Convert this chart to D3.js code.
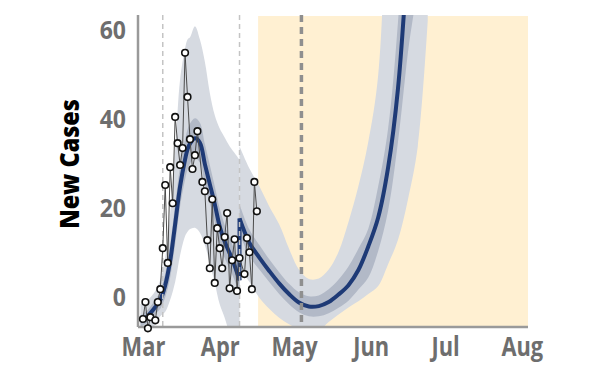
<!DOCTYPE html>
<html>
<head>
<meta charset="utf-8">
<script src="https://cdn.jsdelivr.net/npm/d3@7"></script>
<style>
  body { margin: 0; background: #fff; }
  svg { display: block; font-family: "Open Sans", sans-serif; }
</style>
</head>
<body>
<svg id="chart" width="600" height="380"></svg>
<script>
// observed daily new cases
var obsDates = ["2020-03-01","2020-03-02","2020-03-03","2020-03-04","2020-03-06","2020-03-07","2020-03-08",
  "2020-03-09","2020-03-10","2020-03-11","2020-03-12","2020-03-13","2020-03-14","2020-03-15","2020-03-16",
  "2020-03-17","2020-03-18","2020-03-19","2020-03-20","2020-03-21","2020-03-22","2020-03-23","2020-03-25",
  "2020-03-26","2020-03-27","2020-03-28","2020-03-29","2020-03-30","2020-03-31","2020-04-01","2020-04-02",
  "2020-04-03","2020-04-04","2020-04-05","2020-04-06","2020-04-07","2020-04-08","2020-04-09","2020-04-11",
  "2020-04-12","2020-04-13","2020-04-14","2020-04-15","2020-04-16"];
var obsCases = [-4.8,-1.0,-6.9,-4.4,-5.1,-1.0,1.9,
  11.1,25.3,7.8,29.3,21.2,40.6,34.7,29.8,
  33.6,55.0,45.1,35.6,28.9,32.0,37.4,26.0,
  23.9,12.9,6.6,22.1,3.3,15.6,11.1,6.6,
  13.6,19.0,2.1,8.4,13.1,1.5,8.9,5.3,
  13.4,10.2,1.9,26.0,19.4];

// model fit, first period
var fit1Dates = ["2020-02-29","2020-03-03","2020-03-06","2020-03-08","2020-03-10","2020-03-12","2020-03-14",
  "2020-03-16","2020-03-18","2020-03-19","2020-03-20","2020-03-22","2020-03-24","2020-03-26","2020-03-28",
  "2020-03-30","2020-04-01","2020-04-03","2020-04-05","2020-04-07","2020-04-09"];
var fit1Mean = [-5.3,-4.1,-2.1,-0.5,2.8,8.3,16.5,25,31,33.3,34.6,35.8,34.8,30,25.5,21,16,12.6,10,7.2,3.9];
var fit1Hi50 = [-4,-2.7,-0.5,1.5,5.5,12,21,29.5,35.5,37.8,39.1,40.3,39.3,34.5,29.8,25,20,16.3,13.5,10.5,7.2];
var fit1Lo50 = [-6.6,-5.5,-3.7,-2.5,0.1,4.6,12,20.5,26.5,28.8,30.1,31.3,30.3,25.5,21.2,17,12,8.9,6.5,3.9,0.6];
var fit1Hi95 = [-1.5,-0.5,1.5,4,9,19,33,49,56,58,58.5,61,58,53,46,41,38,36,34,32.5,31];
var fit1Lo95 = [-9,-8.5,-6,-4.2,-3.2,-0.5,3.5,9.5,13.8,14.8,15.4,15.7,14.6,11.8,7.7,3.3,-1.5,-4.5,-8,-10,-11];

// model projection, second period
var fit2Dates = ["2020-04-09","2020-04-13","2020-04-17","2020-04-21","2020-04-25","2020-04-29","2020-05-03",
  "2020-05-07","2020-05-11","2020-05-15","2020-05-19","2020-05-23","2020-05-27","2020-05-31","2020-06-04",
  "2020-06-08","2020-06-12","2020-06-16","2020-06-20","2020-06-24"];
var fit2Mean = [17.8,12.3,9.0,6.0,3.2,0.8,-1.1,-2.0,-1.9,-1.0,0.7,2.8,6.2,11.5,18,29.2,47,78,120,180];
var fit2Hi50 = [21,15.3,11.8,8.6,5.7,3.1,1.2,0.3,0.5,1.9,4.1,7,11,15.5,25,38,62,100,150,220];
var fit2Lo50 = [14.5,9.3,6.3,3.5,0.8,-1.5,-3.3,-4.2,-4.2,-3.5,-2.3,-0.7,1.8,4.5,10.5,19.5,35,55,72,130];
var fit2Hi95 = [34,29,25,20.5,16.5,11,6.3,4.2,4.3,6.3,10.3,17,25,35,50,100,150,200,260,320];
var fit2Lo95 = [7,3.5,0,-2.5,-4.5,-6,-7.2,-8,-7.5,-5.5,-3.8,-2.2,-0.8,0.8,2.6,7.5,13,22,34,62];

// event markers and projection window
var markerDates = ["2020-03-09", "2020-04-09"];
var todayDate = "2020-05-04";
var projStart = "2020-04-16T12:00";
var monthTicks = ["2020-03-01","2020-04-01","2020-05-01","2020-06-01","2020-07-01","2020-08-01"];
var yTicks = [0, 20, 40, 60];

var parse = d3.isoParse;
var plotLeft = 138, plotRight = 528, plotTop = 15, plotBottom = 327;

var svg = d3.select("#chart");

var x = d3.scaleTime()
  .domain([new Date(2020, 1, 28), new Date(2020, 7, 3, 12)])
  .range([plotLeft, plotRight]);
var y = d3.scaleLinear()
  .domain([-6.6, 63.5])
  .range([plotBottom, plotTop]);

svg.append("defs").append("clipPath").attr("id", "plot")
  .append("rect").attr("x", plotLeft).attr("y", plotTop)
  .attr("width", plotRight - plotLeft).attr("height", plotBottom - plotTop);

// projection window
svg.append("rect")
  .attr("x", x(parse(projStart)))
  .attr("y", plotTop + 1)
  .attr("width", plotRight - x(parse(projStart)))
  .attr("height", plotBottom - plotTop - 1)
  .attr("fill", "#fff0d2");

function makeRows(dates, mean, lo50, hi50, lo95, hi95) {
  return dates.map(function (d, i) {
    return { date: parse(d), mean: mean[i], lo50: lo50[i], hi50: hi50[i], lo95: lo95[i], hi95: hi95[i] };
  });
}
var fits = [
  makeRows(fit1Dates, fit1Mean, fit1Lo50, fit1Hi50, fit1Lo95, fit1Hi95),
  makeRows(fit2Dates, fit2Mean, fit2Lo50, fit2Hi50, fit2Lo95, fit2Hi95)
];

var g = svg.append("g").attr("clip-path", "url(#plot)");
var smooth = d3.curveCatmullRom.alpha(0.5);

var band95 = d3.area().curve(smooth)
  .x(function (d) { return x(d.date); })
  .y0(function (d) { return y(d.lo95); })
  .y1(function (d) { return y(d.hi95); });
var band50 = d3.area().curve(smooth)
  .x(function (d) { return x(d.date); })
  .y0(function (d) { return y(d.lo50); })
  .y1(function (d) { return y(d.hi50); });
var meanLine = d3.line().curve(smooth)
  .x(function (d) { return x(d.date); })
  .y(function (d) { return y(d.mean); });

fits.forEach(function (rows) {
  g.append("path").attr("d", band95(rows)).attr("fill", "#d6dae1");
});
fits.forEach(function (rows) {
  g.append("path").attr("d", band50(rows)).attr("fill", "#b2b9c7");
});
fits.forEach(function (rows) {
  g.append("path").attr("d", meanLine(rows))
    .attr("fill", "none").attr("stroke", "#1e3a76").attr("stroke-width", 4);
});
// jump where the second period starts
var jumpEnd = fits[0][fits[0].length - 1], jumpStart = fits[1][0];
g.append("line")
  .attr("x1", x(jumpStart.date)).attr("x2", x(jumpStart.date))
  .attr("y1", y(jumpEnd.mean)).attr("y2", y(jumpStart.mean))
  .attr("stroke", "#1e3a76").attr("stroke-width", 4);

// dashed markers
markerDates.forEach(function (d) {
  svg.append("line")
    .attr("x1", x(parse(d))).attr("x2", x(parse(d)))
    .attr("y1", plotTop).attr("y2", plotBottom)
    .attr("stroke", "#c4c4c4").attr("stroke-width", 1.5)
    .attr("stroke-dasharray", "5,4");
});
svg.append("line")
  .attr("x1", x(parse(todayDate))).attr("x2", x(parse(todayDate)))
  .attr("y1", plotTop).attr("y2", plotBottom)
  .attr("stroke", "#8f8f8f").attr("stroke-width", 3.5)
  .attr("stroke-dasharray", "7,5");

// axes
svg.append("line").attr("x1", plotLeft).attr("x2", plotLeft).attr("y1", plotTop).attr("y2", plotBottom)
  .attr("stroke", "#9a9a9a").attr("stroke-width", 2.5);
svg.append("line").attr("x1", plotLeft).attr("x2", plotRight).attr("y1", plotBottom).attr("y2", plotBottom)
  .attr("stroke", "#9a9a9a").attr("stroke-width", 2.5);

var xAxis = svg.append("g")
  .attr("transform", "translate(0," + plotBottom + ")")
  .call(d3.axisBottom(x)
    .tickValues(monthTicks.map(parse))
    .tickFormat(d3.timeFormat("%b"))
    .tickSize(0).tickPadding(11));
xAxis.select(".domain").remove();
xAxis.selectAll("text")
  .attr("fill", "#6e6e6e").attr("font-size", 26).attr("font-weight", 700)
  .attr("font-family", "Open Sans").attr("transform", "scale(0.84,1)");

var yAxis = svg.append("g")
  .attr("transform", "translate(" + plotLeft + ",0)")
  .call(d3.axisLeft(y).tickValues(yTicks).tickSize(0).tickPadding(12));
yAxis.select(".domain").remove();
yAxis.selectAll("text")
  .attr("fill", "#6e6e6e").attr("font-size", 25).attr("font-weight", 700)
  .attr("font-family", "Open Sans").attr("transform", "scale(0.92,1)")
  .attr("x", -12 / 0.92);

svg.append("text")
  .attr("transform", "translate(79,164) rotate(-90) scale(0.9,1)")
  .attr("text-anchor", "middle")
  .attr("font-size", 26).attr("font-weight", 800)
  .attr("fill", "#000")
  .text("New Cases");

// observations
var obs = obsDates.map(function (d, i) { return { date: parse(d), cases: obsCases[i] }; });
svg.append("path")
  .attr("d", d3.line()
    .x(function (d) { return x(d.date); })
    .y(function (d) { return y(d.cases); })(obs))
  .attr("fill", "none").attr("stroke", "#4a4a4a").attr("stroke-width", 1);
svg.append("g").selectAll("circle")
  .data(obs)
  .enter().append("circle")
  .attr("cx", function (d) { return x(d.date); })
  .attr("cy", function (d) { return y(d.cases); })
  .attr("r", 3.3)
  .attr("fill", "#fff")
  .attr("stroke", "#111")
  .attr("stroke-width", 1.6);
</script>
</body>
</html>
